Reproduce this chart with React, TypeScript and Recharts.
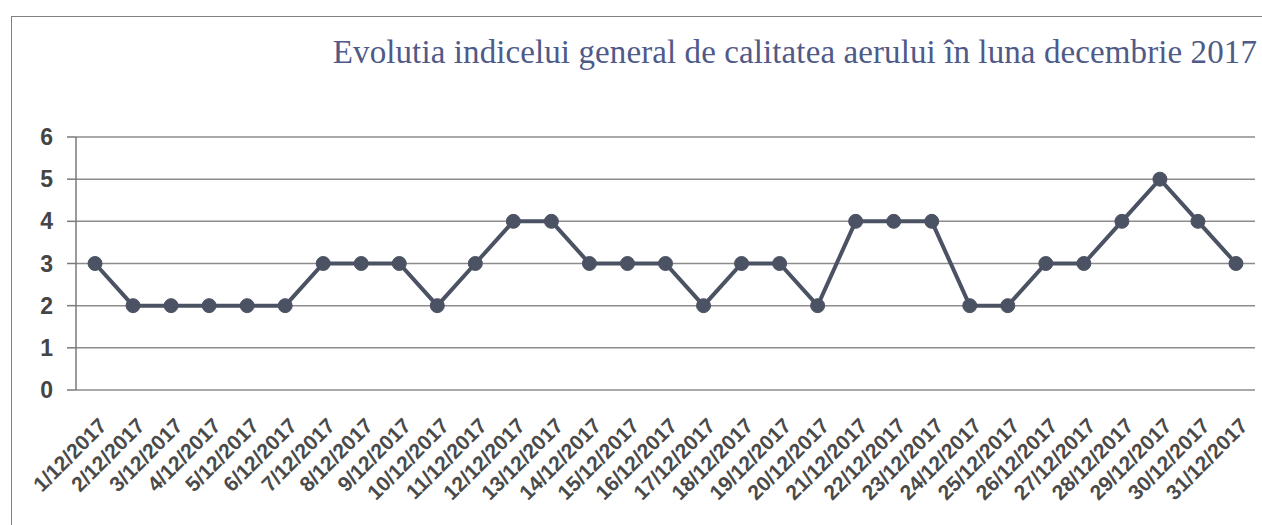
import React from "react";
import {
  LineChart,
  Line,
  XAxis,
  YAxis,
  CartesianGrid,
} from "recharts";

const days = [
  "1/12/2017", "2/12/2017", "3/12/2017", "4/12/2017", "5/12/2017", "6/12/2017",
  "7/12/2017", "8/12/2017", "9/12/2017", "10/12/2017", "11/12/2017", "12/12/2017",
  "13/12/2017", "14/12/2017", "15/12/2017", "16/12/2017", "17/12/2017", "18/12/2017",
  "19/12/2017", "20/12/2017", "21/12/2017", "22/12/2017", "23/12/2017", "24/12/2017",
  "25/12/2017", "26/12/2017", "27/12/2017", "28/12/2017", "29/12/2017", "30/12/2017",
  "31/12/2017",
];

const indexValues = [
  3, 2, 2, 2, 2, 2, 3, 3, 3, 2, 3, 4, 4, 3, 3, 3, 2, 3, 3, 2, 4, 4, 4, 2, 2, 3, 3, 4, 5, 4, 3,
];

const yTicks = [0, 1, 2, 3, 4, 5, 6];

const title = "Evolutia indicelui general de calitatea aerului în luna decembrie 2017";

const data = days.map((d, i) => ({ x: i + 1, label: d, value: indexValues[i] }));
const labelTicks = data.map((d) => d.x);
const sepTicks = [0.5, ...data.map((d) => d.x + 0.5)];

const DateTick = (props: any) => {
  const { x, y, payload } = props;
  const label = days[payload.value - 1] ?? "";
  return (
    <g transform={`translate(${x + 13},${y + 29})`}>
      <text
        x={0}
        y={0}
        textAnchor="end"
        transform="rotate(-45)"
        fontFamily="'Liberation Sans', Arial, sans-serif"
        fontWeight="bold"
        fontSize={21}
        fill="#4a4a4a"
      >
        {label}
      </text>
    </g>
  );
};

const App = () => {
  return (
    <div
      style={{
        position: "absolute",
        left: 0,
        top: 0,
        width: 1262,
        height: 525,
        background: "#fff",
        overflow: "hidden",
      }}
    >
      <div
        style={{
          position: "absolute",
          left: 11,
          top: 16,
          width: 1300,
          height: 600,
          borderLeft: "1.5px solid #808080",
          borderTop: "1.5px solid #808080",
        }}
      />
      <div
        style={{
          position: "absolute",
          right: 5,
          top: 34,
          fontFamily: "'Liberation Serif', 'Times New Roman', serif",
          fontSize: 33,
          color: "#4f5a88",
          whiteSpace: "nowrap",
          letterSpacing: 0.1,
        }}
      >
        {title}
      </div>
      <div style={{ position: "absolute", left: 0, top: 0 }}>
        <LineChart
          width={1262}
          height={525}
          data={data}
          margin={{ top: 137, right: 7, left: 0, bottom: 0 }}
        >
          <CartesianGrid
            xAxisId="labels"
            vertical={false}
            stroke="#8c8c8c"
            strokeWidth={1.5}
          />
          <XAxis
            xAxisId="ticks"
            dataKey="x"
            type="number"
            domain={[0.5, 31.5]}
            ticks={sepTicks}
            interval={0}
            height={0}
            tick={() => <g />}
            tickSize={8}
            axisLine={{ stroke: "#7a7a7a", strokeWidth: 1.5 }}
            tickLine={{ stroke: "#7a7a7a", strokeWidth: 1.5 }}
          />
          <XAxis
            xAxisId="labels"
            dataKey="x"
            type="number"
            domain={[0.5, 31.5]}
            ticks={labelTicks}
            interval={0}
            height={135}
            axisLine={false}
            tickLine={false}
            tick={<DateTick />}
          />
          <YAxis
            domain={[0, 6]}
            ticks={yTicks}
            interval={0}
            width={76}
            tickSize={9}
            tickMargin={14}
            axisLine={{ stroke: "#7a7a7a", strokeWidth: 1.5 }}
            tickLine={{ stroke: "#7a7a7a", strokeWidth: 1.5 }}
            tick={{
              fontFamily: "'Liberation Sans', Arial, sans-serif",
              fontWeight: "bold",
              fontSize: 23,
              fill: "#454545",
            }}
          />
          <Line
            xAxisId="labels"
            dataKey="value"
            stroke="#4b5263"
            strokeWidth={4}
            dot={{ r: 7, fill: "#4b5263", stroke: "#4b5263", strokeWidth: 1 }}
            activeDot={false}
            isAnimationActive={false}
          />
        </LineChart>
      </div>
    </div>
  );
};

export default App;
